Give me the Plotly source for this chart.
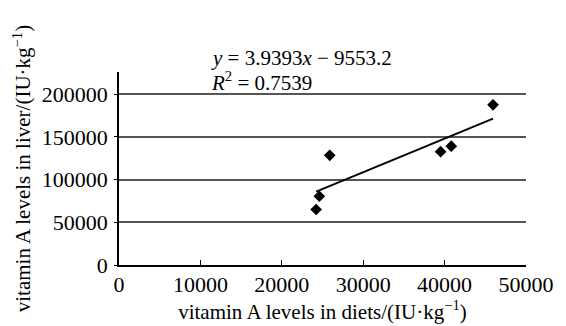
import plotly.graph_objects as go

# data
diet_x = [24220, 24610, 25890, 39510, 40820, 45950]
liver_y = [64970, 80500, 128400, 132700, 139200, 187600]
slope = 3.9393
intercept = -9553.2
r2 = 0.7539
x_ticks = [0, 10000, 20000, 30000, 40000, 50000]
y_ticks = [0, 50000, 100000, 150000, 200000]

FONT = "Liberation Serif"

trend_x = [min(diet_x), max(diet_x)]
trend_y = [slope * v + intercept for v in trend_x]

fig = go.Figure()
fig.add_trace(go.Scatter(x=trend_x, y=trend_y, mode="lines",
                         line=dict(color="black", width=2), showlegend=False))
fig.add_trace(go.Scatter(x=diet_x, y=liver_y, mode="markers",
                         marker=dict(symbol="diamond", size=9, color="black"),
                         showlegend=False))

fig.add_annotation(x=11110, xref="x", y=1.072, yref="paper", xanchor="left", yanchor="middle",
                   text="<i>y</i> = 3.9393<i>x</i> − 9553.2", showarrow=False,
                   font=dict(family=FONT, size=21, color="black"))
fig.add_annotation(x=11110, xref="x", y=0.952, yref="paper", xanchor="left", yanchor="middle",
                   text="<i>R</i><sup>2</sup> = %.4f" % r2, showarrow=False,
                   font=dict(family=FONT, size=21, color="black"))

# the page body adds an 8px offset, so the figure is 8px smaller and margins shifted
fig.update_layout(
    width=558, height=318,
    margin=dict(l=110.5, r=28, t=63.7, b=59.3),
    paper_bgcolor="white", plot_bgcolor="white",
    font=dict(family=FONT, size=21, color="black"),
)
fig.update_xaxes(range=[0, 50000], tickvals=x_ticks, ticktext=[str(v) for v in x_ticks],
                 showgrid=False, zeroline=False, showline=True, linecolor="black", linewidth=1.5,
                 ticks="inside", ticklen=5, tickcolor="black", tickwidth=1,
                 tickfont=dict(family=FONT, size=22), ticklabelstandoff=-1,
                 title=dict(text="vitamin A levels in diets/(IU·kg<sup>−1</sup>)",
                            font=dict(family=FONT, size=21), standoff=2))
fig.update_yaxes(range=[0, 226000], tickvals=y_ticks, ticktext=[str(v) for v in y_ticks],
                 showgrid=True, gridcolor="#555555", gridwidth=1.5, zeroline=False,
                 showline=True, linecolor="black", linewidth=1.5,
                 ticks="outside", ticklen=3, tickcolor="black", tickwidth=1,
                 tickfont=dict(family=FONT, size=22), ticklabelstandoff=2,
                 title=dict(text="vitamin A levels in liver/(IU·kg<sup>−1</sup>)",
                            font=dict(family=FONT, size=21), standoff=5))

fig.write_html("out.html")
